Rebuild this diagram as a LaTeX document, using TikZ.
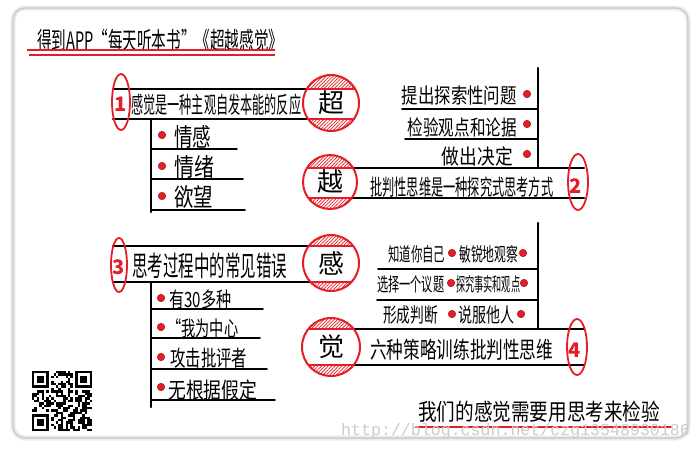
\documentclass[tikz,border=0pt]{standalone}
\usepackage{fontspec}
\newfontfamily\cjk{Noto Sans CJK SC}
\newfontfamily\wmfont{Liberation Mono}
\usetikzlibrary{patterns.meta}
\definecolor{pred}{RGB}{228,30,38}
\newsavebox\fitbox
\newcommand\fitx[3]{\sbox\fitbox{\cjk\fontsize{#2}{#2}\selectfont #3}\pgfmathsetmacro\fitsx{#1/\wd\fitbox}\fontspec[FakeStretch=\fitsx]{Noto Sans CJK SC}\fontsize{#2}{#2}\selectfont #3}
\newcommand\fs[1]{\fontsize{#1}{#1}\selectfont}
\tikzset{
  txt/.style={inner sep=0pt, font=\cjk, anchor=west},
  txte/.style={inner sep=0pt, font=\cjk, anchor=east},
  bar/.style={line width=2.2pt, line cap=round},
  thin/.style={line width=1.8pt, line cap=round},
  redln/.style={draw=pred, line width=1.8pt},
  dotm/.style={circle, fill=pred, draw=pred!70!black, line width=0.5pt, minimum size=7.5pt, inner sep=0pt},
  num/.style={text=pred, font=\cjk\bfseries\fs{20}, inner sep=0pt},
  hatch/.style={pattern={Lines[angle=45,distance=2.4pt,line width=0.7pt]}, pattern color=pred},
}
% name, x, y, r, top chord y, bottom chord y, char
\newcommand\capcircle[7]{%
  \fill[white] (#2,#3) circle (#4pt);
  \begin{scope}
    \clip (#2,#3) circle (#4pt);
    \fill[hatch] (#2-#4-1,#3-#4-1) rectangle (#2+#4+1,#5);
    \fill[hatch] (#2-#4-1,#6) rectangle (#2+#4+1,#3+#4+1);
    \draw[pred, line width=1.4pt] (#2-#4-1,#5) -- (#2+#4+1,#5);
    \draw[pred, line width=1.4pt] (#2-#4-1,#6) -- (#2+#4+1,#6);
  \end{scope}
  \node[circle, draw=pred, line width=2pt, minimum size=2*#4pt, inner sep=0pt, font=\cjk\fs{26}] (#1) at (#2,#3) {#7};
}
\begin{document}
\begin{tikzpicture}[x=1pt,y=-1pt]
\useasboundingbox (0,0) rectangle (700,450);
\fill[white] (0,0) rectangle (700,450);
% frame
\draw[black!8, line width=5pt, rounded corners=12pt] (13,8) rectangle (688,438);
\draw[black!22, line width=1.2pt, rounded corners=12pt] (13,8) rectangle (688,438);

% title
\node[txt] (title) at (37,40) {\fitx{246pt}{24}{得到APP“每天听本书”《超越感觉》}};
\draw[redln] (27,50) -- (275,50);
\draw[redln] (29,55) -- (275,55);

% ---------- section 1 ----------
\draw[bar] (113,89) -- (331,89);
\draw[bar] (113,119) -- (331,119);
\draw[redln] (121,102) ellipse (9pt and 28pt);
\node[num] (n1) at (121,104) {1};
\node[txt] (h1) at (131,105) {\fitx{170pt}{23}{感觉是一种主观自发本能的反应}};
\draw[bar] (151,119) -- (151,212);
\node[dotm] (d11) at (162,135) {};
\node[txt] (i11) at (174,137) {\fitx{37pt}{25}{情感}};
\draw[thin] (151,149) -- (237,149);
\node[dotm] (d12) at (162,166) {};
\node[txt] (i12) at (174,167) {\fitx{40pt}{25}{情绪}};
\draw[thin] (151,179) -- (243,179);
\node[dotm] (d13) at (162,196) {};
\node[txt] (i13) at (174,197) {\fitx{39pt}{25}{欲望}};
\draw[thin] (151,210) -- (245,210);
\capcircle{c1}{331}{103}{28}{89}{119}{超}

% ---------- section 2 ----------
\draw[bar] (538,68) -- (538,168);
\node[txte] (i21) at (517,96) {\fitx{115pt}{21}{提出探索性问题}};
\node[dotm] (d21) at (527,94) {};
\draw[thin] (402,109) -- (538,109);
\node[txte] (i22) at (517,127) {\fitx{109pt}{21}{检验观点和论据}};
\node[dotm] (d22) at (527,124) {};
\draw[thin] (405,139) -- (538,139);
\node[txte] (i23) at (513,156) {\fitx{71pt}{21}{做出决定}};
\node[dotm] (d23) at (527,154) {};
\draw[bar] (330,168) -- (584,168);
\draw[bar] (330,198) -- (584,198);
\draw[redln] (578,182) ellipse (10pt and 28pt);
\node[num] (n2) at (576,186) {2};
\node[txt] (h2) at (370,187) {\fitx{183pt}{22}{批判性思维是一种探究式思考方式}};
\capcircle{c2}{330}{182}{27}{168}{198}{越}

% ---------- section 3 ----------
\draw[bar] (113,246) -- (331,246);
\draw[bar] (113,282) -- (331,282);
\draw[redln] (119,265) ellipse (8pt and 27pt);
\node[num] (n3) at (119,267) {3};
\node[txt] (h3) at (132,266) {\fitx{155pt}{28}{思考过程中的常见错误}};
\draw[bar] (151,282) -- (151,407);
\node[dotm] (d31) at (161,298) {};
\node[txt] (i31) at (169,300) {\fitx{62pt}{21}{有30多种}};
\draw[thin] (151,309) -- (263,309);
\node[dotm] (d32) at (161,327) {};
\node[txt] (i32) at (167,328) {\fitx{71pt}{21}{“我为中心}};
\draw[thin] (151,338) -- (260,338);
\node[dotm] (d33) at (161,357) {};
\node[txt] (i33) at (170,358) {\fitx{77pt}{22}{攻击批评者}};
\draw[thin] (151,369) -- (267,369);
\node[dotm] (d34) at (161,387) {};
\node[txt] (i34) at (168,390) {\fitx{89pt}{22}{无根据假定}};
\draw[thin] (151,400) -- (275,400);
\capcircle{c3}{331}{263}{28}{246}{282}{感}

% ---------- section 4 ----------
\draw[bar] (538,223) -- (538,329);
\node[txt] (i41) at (388,254) {\fitx{57pt}{19}{知道你自己}};
\node[dotm] (d41) at (452,253) {};
\node[txt] (i42) at (459,254) {\fitx{59pt}{19}{敏锐地观察}};
\node[dotm] (d42) at (523,253) {};
\draw[thin] (378,269) -- (538,269);
\node[txt] (i43) at (377,284) {\fitx{67pt}{19}{选择一个议题}};
\node[dotm] (d43) at (451,283) {};
\node[txt] (i44) at (456,284) {\fitx{64pt}{19}{探究事实和观点}};
\node[dotm] (d44) at (524,283) {};
\draw[thin] (377,300) -- (538,300);
\node[txt] (i45) at (383,315) {\fitx{55pt}{20}{形成判断}};
\node[dotm] (d45) at (452,314) {};
\node[txt] (i46) at (458,315) {\fitx{56pt}{20}{说服他人}};
\node[dotm] (d46) at (521,314) {};
\draw[bar] (330,329) -- (584,329);
\draw[bar] (330,365) -- (584,365);
\draw[redln] (577,347) ellipse (10pt and 28pt);
\node[num] (n4) at (575,350) {4};
\node[txt] (h4) at (370,350) {\fitx{183pt}{23}{六种策略训练批判性思维}};
\capcircle{c4}{331}{347}{29}{329}{365}{觉}

% ---------- QR code ----------
\pgfmathsetseed{11}
\foreach \i in {0,...,24}{
  \foreach \j in {0,...,24}{
    \pgfmathtruncatemacro\qskp{or(and(\i<8,\j<8),or(and(\i>16,\j<8),and(\i<8,\j>16)))}
    \pgfmathrandominteger{\qr}{0}{1}
    \ifnum\qskp=0 \ifnum\qr=1
      \fill (32+\i*2.4,371+\j*2.4) rectangle ++(2.4,2.4);
    \fi\fi
  }
}
\foreach \fx/\fy in {32/371, 75.2/371, 32/414.2}{
  \fill (\fx,\fy) rectangle ++(16.8,16.8);
  \fill[white] (\fx+2.4,\fy+2.4) rectangle ++(12,12);
  \fill (\fx+4.8,\fy+4.8) rectangle ++(7.2,7.2);
}

% ---------- bottom ----------
\node[txt] (concl) at (418,412) {\fitx{242pt}{23}{我们的感觉需要用思考来检验}};
\draw[redln] (415,427) -- (672,427);
\node[inner sep=0pt, anchor=west, text=black!20, font=\wmfont\fs{16.6}] (wm) at (341,431) {http://blog.csdn.net/czg13548930186};
\end{tikzpicture}
\end{document}
